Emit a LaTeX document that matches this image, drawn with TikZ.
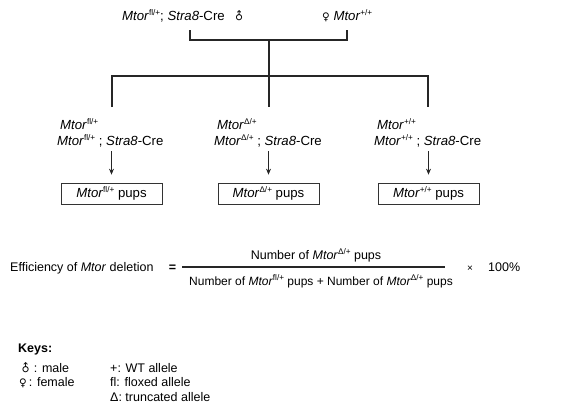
\documentclass[tikz,border=0pt]{standalone}
\usepackage{fontspec}
\setmainfont{Liberation Sans}
\newfontfamily\symfont{DejaVu Sans}
\usetikzlibrary{arrows.meta}
\newcommand{\sps}[1]{\raisebox{0.4em}{\fontsize{8.2}{9}\selectfont #1}}
\newcommand{\mt}[1]{\textit{Mtor}\sps{#1}}
\newcommand{\malesym}{{\symfont\fontsize{11}{12}\selectfont\raisebox{-2.2pt}{\rotatebox{45}{♂}}}}
\newcommand{\femsym}{{\symfont\fontsize{10.5}{12}\selectfont ♀}}
\newcommand{\dlt}{Δ}
\tikzset{
  txt/.style={inner sep=0pt, anchor=base west, font=\fontsize{12.5}{15}\selectfont},
  ctxt/.style={inner sep=0pt, anchor=base, font=\fontsize{12.5}{15}\selectfont},
  big/.style={font=\fontsize{13.2}{16}\selectfont},
  line/.style={draw=black!85, line width=1.3pt},
  pupbox/.style={draw=black!80, line width=0.7pt, minimum width=101pt, minimum height=21pt, inner sep=0pt, font=\fontsize{13.2}{15}\selectfont},
  arr/.style={draw=black!85, line width=1pt, -{Stealth[length=6pt,width=5pt]}},
}
\begin{document}
\begin{tikzpicture}[x=1pt,y=-1pt]
\useasboundingbox (0,0) rectangle (573,407);
% parents
\node[txt, big] (p1) at (122,20.5) {\mt{fl/+}; \textit{Stra8}-Cre\hspace{8pt}\malesym};
\node[txt, big] (p2) at (322,20.5) {\femsym\ \mt{+/+}};
\coordinate (bl) at (190,30);
\coordinate (br) at (347,30);
\coordinate (bc) at (269,40);
\coordinate (jc) at (269,76);
\coordinate (jl) at (112,76);
\coordinate (jr) at (428,76);
\draw[line] (bl) -- (bl |- bc) -- (br |- bc) -- (br);
% genotypes
\node[txt, big, align=left, anchor=north west] (g1) at (57,118) {\hspace*{3pt}\mt{fl/+}\\\mt{fl/+} ; \textit{Stra8}-Cre};
\node[txt, big, align=left, anchor=north west] (g2) at (214,118) {\hspace*{3pt}\mt{\dlt/+}\\\mt{\dlt/+} ; \textit{Stra8}-Cre};
\node[txt, big, align=left, anchor=north west] (g3) at (374,118) {\hspace*{3pt}\mt{+/+}\\\mt{+/+} ; \textit{Stra8}-Cre};
\draw[line] (bc) -- (jc) -- (jc |- 0,107);
\draw[line] (jl |- 0,107) -- (jl) -- (jr) -- (jr |- 0,107);
% boxes
\node[pupbox] (b1) at (111.5,193.5) {\mt{fl/+} pups};
\node[pupbox] (b2) at (268.5,193.5) {\mt{\dlt/+} pups};
\node[pupbox] (b3) at (428.5,193.5) {\mt{+/+} pups};
\draw[arr, shorten >=8pt] (b1.north |- 0,151) -- (b1.north);
\draw[arr, shorten >=8pt] (b2.north |- 0,151) -- (b2.north);
\draw[arr, shorten >=8pt] (b3.north |- 0,151) -- (b3.north);
% equation
\node[txt] (eff) at (10,271.5) {Efficiency of \textit{Mtor} deletion};
\node[ctxt] (eq) at (172.5,271.5) {\textbf{=}};
\coordinate (fl) at (182,267);
\coordinate (fr) at (445,267);
\draw[draw=black!85, line width=1.2pt] (fl) -- (fr);
\node[ctxt] (num) at (316,259.5) {Number of \mt{\dlt/+} pups};
\node[ctxt, font=\fontsize{12}{14}\selectfont] (den) at (321,285) {Number of \mt{fl/+} pups + Number of \mt{\dlt/+} pups};
\node[ctxt] (times) at (470,271.5) {{\fontsize{10}{12}\selectfont ×}};
\node[txt] (pct) at (488,271.5) {100\%};
% keys
\node[txt] (keys) at (18,352) {\textbf{Keys:}};
\node[txt] (k1) at (19,372) {\malesym\,: male};
\node[txt] (k2) at (19,386.5) {\femsym\,: female};
\node[txt] (k3) at (110,372) {+: WT allele};
\node[txt] (k4) at (110,386.5) {fl: floxed allele};
\node[txt] (k5) at (110,401) {\dlt: truncated allele};
\end{tikzpicture}
\end{document}
